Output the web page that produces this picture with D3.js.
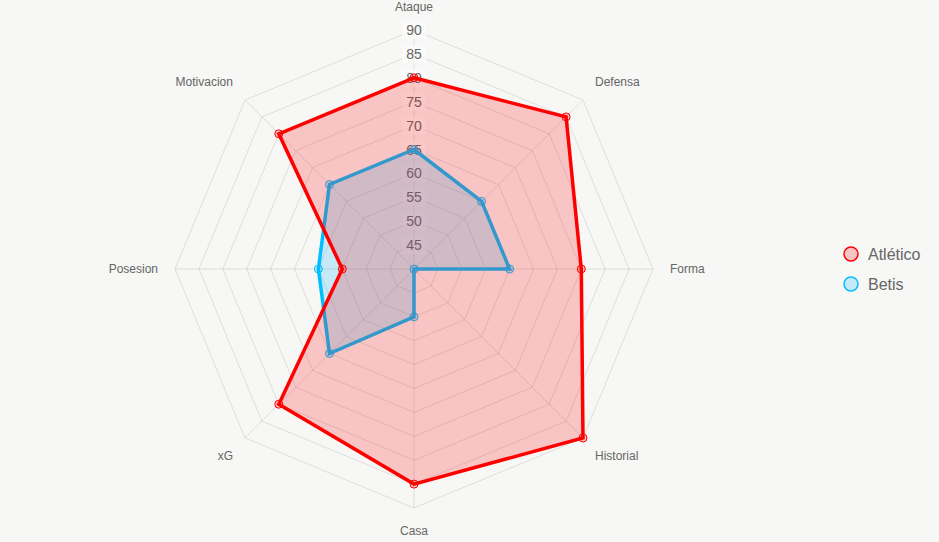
<!DOCTYPE html>
<html>
<head>
<meta charset="utf-8">
<script src="https://cdn.jsdelivr.net/npm/d3@7"></script>
<style>
	html, body { margin: 0; padding: 0; background: #f7f7f5; }
	svg { display: block; font-family: "Liberation Sans", Arial, Helvetica, sans-serif; }
</style>
</head>
<body>
<div id="chart"></div>
<script>
var axisLabels = ["Ataque", "Defensa", "Forma", "Historial", "Casa", "xG", "Posesion", "Motivacion"];
var atleticoValues = [80, 85, 75, 90, 85, 80, 55, 80];
var betisValues = [65, 60, 60, 40, 50, 65, 60, 65];
var tickValues = [45, 50, 55, 60, 65, 70, 75, 80, 85, 90];

var series = [
	{ name: "Betis", values: betisValues, stroke: "#00bfff", fill: "rgba(0,180,255,0.2)" },
	{ name: "Atlético", values: atleticoValues, stroke: "#ff0000", fill: "rgba(255,0,0,0.2)" }
];
var legendOrder = ["Atlético", "Betis"];

(function () {
	var width = 939, height = 542;
	var cx = 414, cy = 269, radius = 239;

	var svg = d3.select("#chart").append("svg")
		.attr("width", width)
		.attr("height", height);

	var r = d3.scaleLinear().domain([40, 90]).range([0, radius]);
	var angle = d3.scaleLinear().domain([0, axisLabels.length]).range([0, 2 * Math.PI]);

	var point = function (i, rad) {
		var a = angle(i);
		return [cx + rad * Math.sin(a), cy - rad * Math.cos(a)];
	};

	var grid = svg.append("g").attr("class", "grid");

	// rings
	grid.selectAll("polygon")
		.data(tickValues)
		.enter().append("polygon")
		.attr("points", function (t) {
			return axisLabels.map(function (d, i) { return point(i, r(t)).join(","); }).join(" ");
		})
		.attr("fill", "none")
		.attr("stroke", "rgba(0,0,0,0.1)")
		.attr("stroke-width", 1);

	// spokes
	grid.selectAll("line")
		.data(axisLabels)
		.enter().append("line")
		.attr("x1", cx)
		.attr("y1", cy)
		.attr("x2", function (d, i) { return point(i, radius)[0]; })
		.attr("y2", function (d, i) { return point(i, radius)[1]; })
		.attr("stroke", "rgba(0,0,0,0.1)")
		.attr("stroke-width", 1);

	// tick labels with backdrop
	var ticks = svg.append("g").attr("class", "ticks");
	var tick = ticks.selectAll("g")
		.data(tickValues)
		.enter().append("g")
		.attr("transform", function (t) { return "translate(" + cx + "," + (cy - r(t)) + ")"; });
	tick.append("rect")
		.attr("x", -12)
		.attr("y", -9)
		.attr("width", 24)
		.attr("height", 18)
		.attr("fill", "rgba(255,255,255,0.55)");
	tick.append("text")
		.text(function (t) { return t; })
		.attr("text-anchor", "middle")
		.attr("dy", "0.36em")
		.attr("fill", "#666")
		.style("font-size", "14px");

	// axis labels
	svg.append("g").attr("class", "point-labels")
		.selectAll("text")
		.data(axisLabels)
		.enter().append("text")
		.text(function (d) { return d; })
		.each(function (d, i) {
			var p = point(i, radius + 17);
			var s = Math.sin(angle(i)), c = Math.cos(angle(i));
			var anchor = Math.abs(s) < 0.01 ? "middle" : (s > 0 ? "start" : "end");
			var dy = Math.abs(c) < 0.01 ? "0.35em" : (c > 0 ? "-0.18em" : "0.8em");
			d3.select(this)
				.attr("x", p[0])
				.attr("y", p[1])
				.attr("text-anchor", anchor)
				.attr("dy", dy);
		})
		.attr("fill", "#666")
		.style("font-size", "12px");

	var line = d3.line().curve(d3.curveLinearClosed);

	var ds = svg.append("g").attr("class", "datasets")
		.selectAll("g")
		.data(series)
		.enter().append("g");

	ds.append("path")
		.attr("d", function (s) {
			return line(s.values.map(function (v, i) { return point(i, r(v)); }));
		})
		.attr("fill", function (s) { return s.fill; })
		.attr("stroke", function (s) { return s.stroke; })
		.attr("stroke-width", 3.5)
		.attr("stroke-linejoin", "miter");

	ds.each(function (s) {
		d3.select(this).selectAll("circle")
			.data(s.values)
			.enter().append("circle")
			.attr("cx", function (v, i) { return point(i, r(v))[0]; })
			.attr("cy", function (v, i) { return point(i, r(v))[1]; })
			.attr("r", 4)
			.attr("fill", s.fill)
			.attr("stroke", s.stroke)
			.attr("stroke-width", 1);
	});

	// legend
	var legend = svg.append("g").attr("class", "legend")
		.selectAll("g")
		.data(legendOrder.map(function (n) { return series.filter(function (s) { return s.name === n; })[0]; }))
		.enter().append("g")
		.attr("transform", function (s, i) { return "translate(851," + (254 + i * 30) + ")"; });
	legend.append("circle")
		.attr("r", 7)
		.attr("fill", function (s) { return s.fill; })
		.attr("stroke", function (s) { return s.stroke; })
		.attr("stroke-width", 1.5);
	legend.append("text")
		.text(function (s) { return s.name; })
		.attr("x", 17)
		.attr("dy", "0.35em")
		.attr("fill", "#666")
		.style("font-size", "16px");
})();
</script>
</body>
</html>
